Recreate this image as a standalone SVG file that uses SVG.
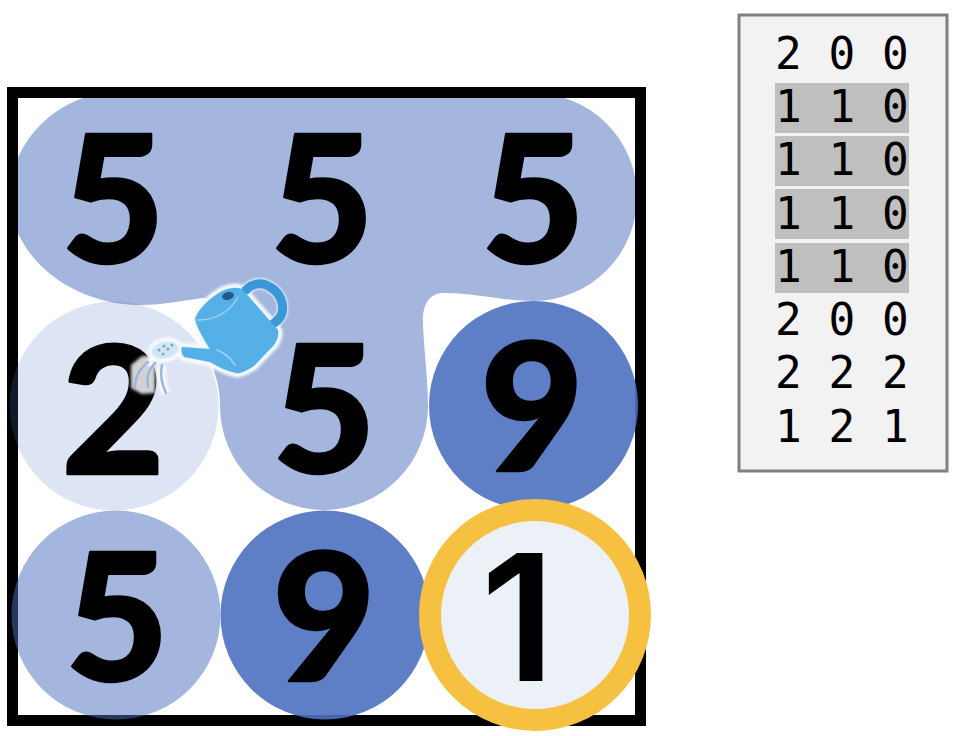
<svg xmlns="http://www.w3.org/2000/svg" width="966" height="736" viewBox="0 0 966 736">
<style>
.d{font-family:"Lato","Inter",sans-serif;font-weight:900;font-size:178px;text-anchor:middle;fill:#000;stroke:#000;stroke-width:2.500;stroke-linejoin:round}
.one{font-family:"Inter","Liberation Sans",sans-serif;font-weight:600;font-size:176px;stroke-width:0}
.m{font-family:"DejaVu Sans Mono",monospace;font-size:44.4px;fill:#000;white-space:pre}
.hl{fill:#bfbfbf}
.lt{fill:#496dbb;fill-opacity:.5}.dk{fill:#4d71c0;fill-opacity:.9}.pl{fill:#5578c3;fill-opacity:.2}
.w{fill:none;stroke:#9db8dc;stroke-width:2.5;stroke-linecap:round}
</style>
<defs>
<filter id="glow" x="-20%" y="-20%" width="140%" height="140%"><feGaussianBlur stdDeviation="1.6"/></filter>
<g id="canShape">
<path d="M195 319C198 309 211 297 222 291C232 287 239 287 243 290L278 330C279 336 277 341 274 345L254 366C246 371 240 374 236 373C227 371 218 367 210 362L184 357Q180 352 182 347L210 349C203 338 197 328 195 319Z"/>
<path d="M246 290C252 283 262 282 270 287C281 293 284 305 282 313C281 318 277 321 273 324" fill="none" stroke-width="9" stroke-linecap="round"/>
<ellipse cx="165" cy="350" rx="13" ry="8" transform="rotate(-12 165 350)"/>
<path fill="none" d="M148 362Q150 362 155 363M162 365Q159 378 166 393"/>
</g>
</defs>
<path id="flood" fill="#a4b6dd" d="M114 93H533A104 104 0 0 1 533 301C505 301 470 292 442 293C428 294 422 306 423 325C424 350 428 380 428 406A104 104 0 0 1 220 406C220 390 217 380 213 368L212 345L225 300L203 298C185 300 165 305 140 305C70 305 10 255 10 197C10 140 60 93 114 93Z"/>
<rect id="frame" x="12.500" y="92.500" width="628" height="628" fill="none" stroke="#000" stroke-width="11"/>
<g id="cell-2-0"><circle class="lt" cx="116" cy="615" r="104.500"/><text class="d" x="117" y="681">5</text></g>
<g id="cell-1-0"><circle class="pl" cx="114" cy="406" r="104.500"/><text class="d" x="113" y="474">2</text></g>
<g id="cell-2-1"><circle class="dk" cx="325" cy="615" r="104.500"/><text class="d" x="324" y="681">9</text></g>
<g id="cell-1-2"><circle class="dk" cx="533.500" cy="405.500" r="104.500"/><text class="d" x="532" y="471">9</text></g>
<g id="cell-0-0"><text class="d" x="113" y="263">5</text></g>
<g id="cell-0-1"><text class="d" x="322" y="263">5</text></g>
<g id="cell-0-2"><text class="d" x="533" y="263">5</text></g>
<g id="cell-1-1"><text class="d" x="324" y="473">5</text></g>
<g id="cell-2-2"><circle cx="535" cy="615" r="105" fill="#ecf1f8" stroke="#f6c141" stroke-width="22"/><text class="d one" x="518" y="681">1</text></g>
<g id="can">
<path d="M131 365L142 356L155 356L155 393L142 394L131 388Z" fill="#d2d2d2" filter="url(#glow)"/>
<use href="#canShape" fill="#fff" stroke="#fff" stroke-width="8" filter="url(#glow)"/>
<use href="#canShape" fill="#e4f1fa" stroke="#e4f1fa" stroke-width="3" filter="url(#glow)"/>
<path d="M246 290C252 283 262 282 270 287C281 293 284 305 282 313C281 318 277 321 273 324" fill="none" stroke="#3a97d8" stroke-width="9" stroke-linecap="round"/>
<path fill="#56b0e8" d="M195 319C198 309 211 297 222 291C232 287 239 287 243 290L278 330C279 336 277 341 274 345L254 366C246 371 240 374 236 373C227 371 218 367 210 362L184 357Q180 352 182 347L210 349C203 338 197 328 195 319Z"/>
<ellipse cx="165" cy="350" rx="13" ry="8" fill="#cfe6f5" transform="rotate(-12 165 350)"/>
<g fill="#7fa6c8"><circle cx="159" cy="350" r="1.500"/><circle cx="164" cy="346" r="1.500"/><circle cx="168" cy="349" r="1.500"/><circle cx="172" cy="345" r="1.500"/><circle cx="163" cy="354" r="1.500"/></g>
<ellipse cx="228" cy="296" rx="6" ry="3.800" fill="#1f5a8a" transform="rotate(-15 228 296)"/>
<path d="M198 320Q225 320 238 297M217 350Q228 354 235 365" fill="none" stroke="#9fd2f2" stroke-width="1.500" stroke-linecap="round"/>
<path class="w" d="M135 387Q135 372 148 362M148 387Q145 373 155 363M162 365Q159 378 166 393"/>
</g>
<g id="panel">
<rect x="739" y="15" width="208" height="456" fill="#f2f2f2" stroke="#808080" stroke-width="3"/>
<rect class="hl" x="775" y="83" width="134" height="50"/>
<rect class="hl" x="775" y="136" width="134" height="50"/>
<rect class="hl" x="775" y="189" width="134" height="50"/>
<rect class="hl" x="775" y="243" width="134" height="50"/>
<text class="m" x="775" y="69">2 0 0</text>
<text class="m" x="775" y="122">1 1 0</text>
<text class="m" x="775" y="175">1 1 0</text>
<text class="m" x="775" y="229">1 1 0</text>
<text class="m" x="775" y="282">1 1 0</text>
<text class="m" x="775" y="335">2 0 0</text>
<text class="m" x="775" y="388">2 2 2</text>
<text class="m" x="775" y="442">1 2 1</text>
</g>
</svg>
